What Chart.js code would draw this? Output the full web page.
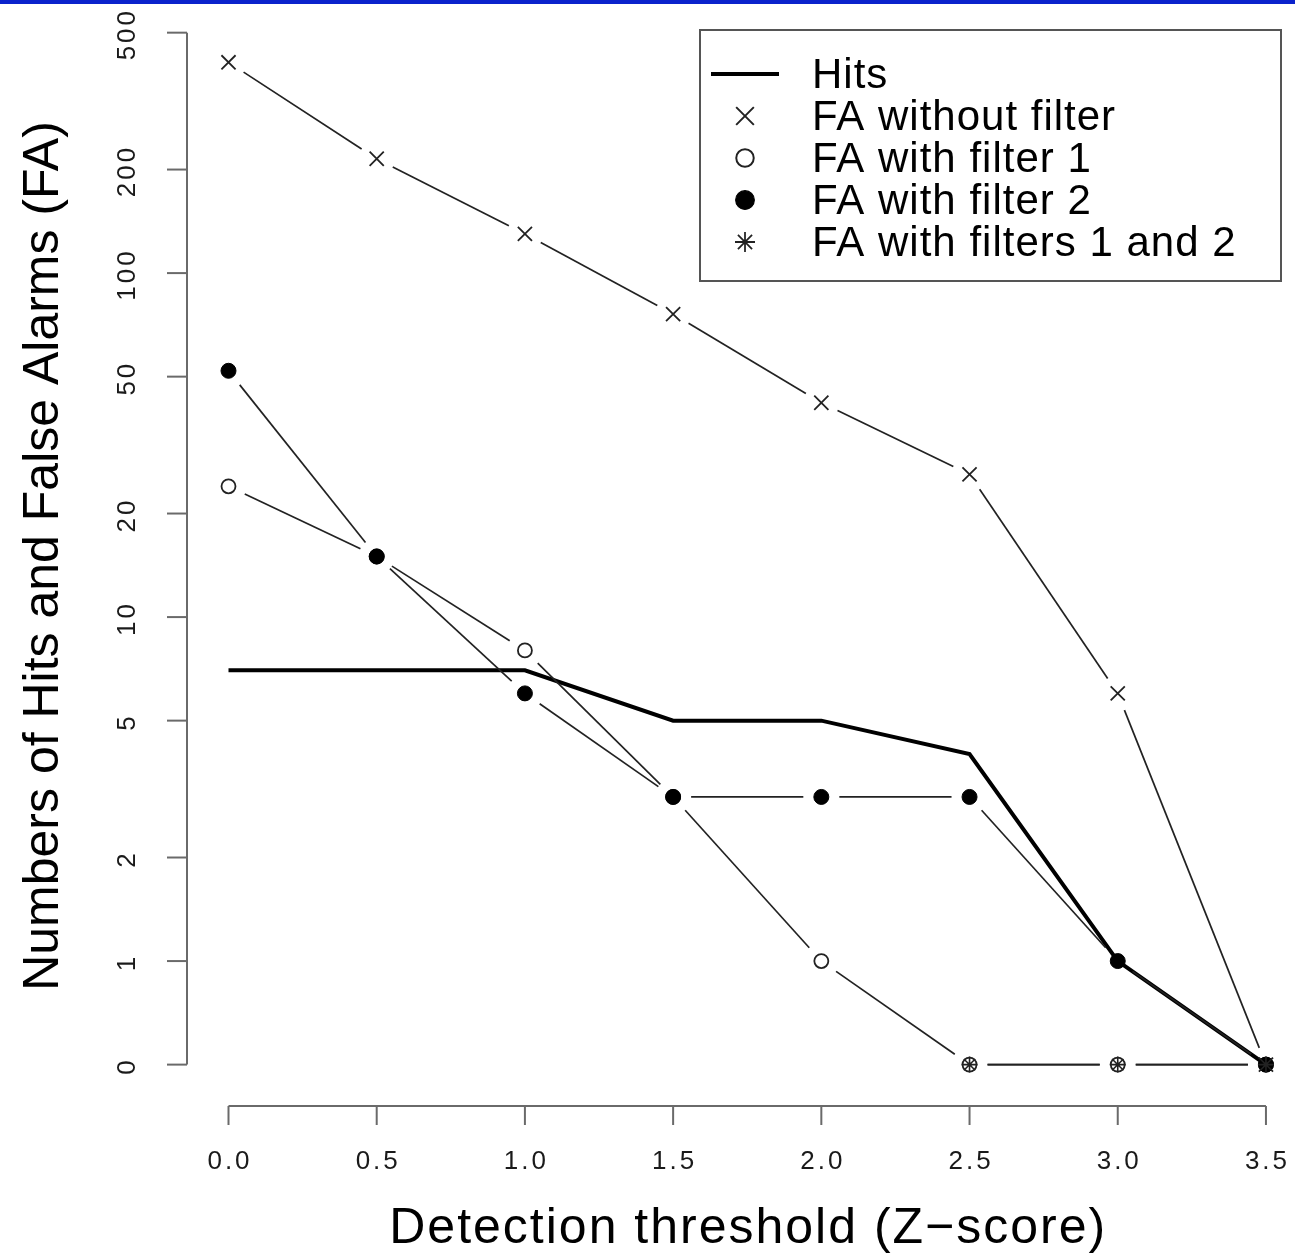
<!DOCTYPE html>
<html>
<head>
<meta charset="utf-8">
<title>Hits and False Alarms</title>
<script src="https://cdn.jsdelivr.net/npm/chart.js@4.4.1/dist/chart.umd.min.js"></script>
<style>
  html, body { margin: 0; padding: 0; background: #fff; overflow: hidden; }
  #wrap { position: relative; width: 1295px; height: 1255px; }
  #topbar { position: absolute; left: 0; top: 0; width: 100%; height: 4px; background: #0a22cc; z-index: 2; }
  #chart { display: block; }
</style>
</head>
<body>
<div id="wrap">
  <div id="topbar"></div>
  <canvas id="chart" width="1295" height="1255"></canvas>
</div>
<script>
const thresholds = [0.0, 0.5, 1.0, 1.5, 2.0, 2.5, 3.0, 3.5];
const hits = [7, 7, 7, 5, 5, 4, 1, 0];
const faNoFilter = [410, 215, 130, 76, 42, 26, 6, 0];
const faFilter1 = [24, 15, 8, 3, 1, 0, 0, 0];
const faFilter2 = [52, 15, 6, 3, 3, 3, 1, 0];
const faFilters12 = [null, null, null, null, null, 0, 0, 0];

const xTicks = [0.0, 0.5, 1.0, 1.5, 2.0, 2.5, 3.0, 3.5];
const yTicks = [0, 1, 2, 5, 10, 20, 50, 100, 200, 500];

const legendLabels = ["Hits", "FA without filter", "FA with filter 1", "FA with filter 2", "FA with filters 1 and 2"];
const xTitle = "Detection threshold (Z\u2212score)";
const yTitle = "Numbers of Hits and False Alarms (FA)";

// zero counts are drawn half a step below 1 on the log axis, like the original
const ZERO_AT = 0.5;
const INK = "#222";
const FONT = "'Liberation Sans', Arial, Helvetica, sans-serif";
const X_RANGE = [-0.14, 3.598];
const Y_RANGE = [0.379, 537];

const toPoints = vals => vals.map((v, i) => ({
    x: thresholds[i],
    y: v === null ? null : (v === 0 ? ZERO_AT : v)
}));

const datasets = [
    { label: legendLabels[0], data: toPoints(hits), borderColor: "#000", borderWidth: 4,
      pointRadius: 0, order: 5, sym: "line" },
    { label: legendLabels[1], data: toPoints(faNoFilter), showLine: false, pointStyle: "crossRot",
      pointRadius: 10, pointBorderColor: INK, pointBorderWidth: 1.8, order: 4, gap: 18 },
    { label: legendLabels[2], data: toPoints(faFilter1), showLine: false, pointStyle: "circle",
      pointRadius: 7, pointBackgroundColor: "#fff", pointBorderColor: INK, pointBorderWidth: 1.8, order: 3, gap: 18 },
    { label: legendLabels[3], data: toPoints(faFilter2), showLine: false, pointStyle: "circle",
      pointRadius: 7.5, pointBackgroundColor: "#000", pointBorderColor: "#000", pointBorderWidth: 1, order: 2, gap: 18 },
    { label: legendLabels[4], data: toPoints(faFilters12), showLine: false, pointStyle: "star",
      pointRadius: 8, pointBorderColor: INK, pointBorderWidth: 1.6, order: 1, gap: 18 }
];

// R-style "type = b" lines: segments stop short of each point
const gapLines = {
    id: "gapLines",
    afterDatasetDraw(chart, args) {
        if (args.index !== 0) return;
        const ctx = chart.ctx;
        ctx.save();
        ctx.strokeStyle = INK;
        ctx.lineWidth = 1.7;
        chart.data.datasets.forEach((ds, di) => {
            if (!ds.gap) return;
            const pts = chart.getDatasetMeta(di).data;
            for (let i = 1; i < pts.length; i++) {
                const a = pts[i - 1], b = pts[i];
                if (a.skip || b.skip) continue;
                const dx = b.x - a.x, dy = b.y - a.y;
                const len = Math.hypot(dx, dy);
                if (len <= 2 * ds.gap) continue;
                const ux = dx / len, uy = dy / len;
                ctx.beginPath();
                ctx.moveTo(a.x + ux * ds.gap, a.y + uy * ds.gap);
                ctx.lineTo(b.x - ux * ds.gap, b.y - uy * ds.gap);
                ctx.stroke();
            }
        });
        ctx.restore();
    }
};

function drawSymbol(ctx, ds, cx, cy, scale) {
    ctx.save();
    if (ds.sym === "line") {
        ctx.strokeStyle = "#000";
        ctx.lineWidth = 4;
        ctx.beginPath();
        ctx.moveTo(cx - 34, cy);
        ctx.lineTo(cx + 34, cy);
        ctx.stroke();
        ctx.restore();
        return;
    }
    const r = ds.pointRadius * scale;
    ctx.strokeStyle = ds.pointBorderColor;
    ctx.lineWidth = ds.pointBorderWidth * 1.1;
    ctx.beginPath();
    if (ds.pointStyle === "circle") {
        ctx.arc(cx, cy, r, 0, Math.PI * 2);
        ctx.fillStyle = ds.pointBackgroundColor;
        ctx.fill();
        ctx.stroke();
    } else {
        const d = r * Math.SQRT1_2;
        ctx.moveTo(cx - d, cy - d); ctx.lineTo(cx + d, cy + d);
        ctx.moveTo(cx - d, cy + d); ctx.lineTo(cx + d, cy - d);
        if (ds.pointStyle === "star") {
            ctx.moveTo(cx - r, cy); ctx.lineTo(cx + r, cy);
            ctx.moveTo(cx, cy - r); ctx.lineTo(cx, cy + r);
        }
        ctx.stroke();
    }
    ctx.restore();
}

// axes, labels and legend in the look of base R graphics
const frame = {
    id: "frame",
    afterDraw(chart) {
        const { ctx, chartArea: area, scales: { x, y } } = chart;
        ctx.save();

        // y axis
        ctx.strokeStyle = "#6a6a6a";
        ctx.lineWidth = 2;
        const yPix = t => y.getPixelForValue(t === 0 ? ZERO_AT : t);
        ctx.beginPath();
        ctx.moveTo(area.left, yPix(yTicks[yTicks.length - 1]));
        ctx.lineTo(area.left, yPix(yTicks[0]));
        ctx.stroke();
        yTicks.forEach(t => {
            ctx.beginPath();
            ctx.moveTo(area.left, yPix(t));
            ctx.lineTo(area.left - 20, yPix(t));
            ctx.stroke();
        });

        // x axis
        const xb = area.bottom;
        ctx.beginPath();
        ctx.moveTo(x.getPixelForValue(xTicks[0]), xb);
        ctx.lineTo(x.getPixelForValue(xTicks[xTicks.length - 1]), xb);
        ctx.stroke();
        xTicks.forEach(t => {
            ctx.beginPath();
            ctx.moveTo(x.getPixelForValue(t), xb);
            ctx.lineTo(x.getPixelForValue(t), xb + 19);
            ctx.stroke();
        });

        // tick labels
        ctx.fillStyle = "#1a1a1a";
        ctx.font = "26px " + FONT;
        ctx.letterSpacing = "3px";
        ctx.textAlign = "center";
        ctx.textBaseline = "middle";
        xTicks.forEach(t => ctx.fillText(t.toFixed(1), x.getPixelForValue(t) + 1.5, xb + 56));
        yTicks.forEach(t => {
            ctx.save();
            ctx.translate(area.left - 59, yPix(t) + 1.5);
            ctx.rotate(-Math.PI / 2);
            ctx.fillText(String(t), 0, 0);
            ctx.restore();
        });

        // axis titles
        ctx.fillStyle = "#000";
        ctx.font = "50px " + FONT;
        ctx.textBaseline = "alphabetic";
        ctx.letterSpacing = "2px";
        ctx.fillText(xTitle, x.getPixelForValue(1.75) + 1, xb + 137);
        ctx.letterSpacing = "0px";
        ctx.save();
        ctx.translate(58, (area.top + area.bottom) / 2 - 8);
        ctx.rotate(-Math.PI / 2);
        ctx.fillText(yTitle, 0, 0);
        ctx.restore();

        // legend
        const lx = 700, ly = 30, lw = 581, lh = 251;
        ctx.strokeStyle = "#555";
        ctx.lineWidth = 2;
        ctx.strokeRect(lx, ly, lw, lh);
        ctx.font = "42px " + FONT;
        ctx.letterSpacing = "1px";
        ctx.textAlign = "left";
        ctx.textBaseline = "middle";
        chart.data.datasets.forEach((ds, i) => {
            const cy = ly + 44 + i * 42;
            drawSymbol(ctx, ds, lx + 45, cy, 1.25);
            ctx.fillStyle = "#000";
            ctx.fillText(ds.label, lx + 112, cy + 2);
        });
        ctx.restore();
    }
};

new Chart(document.getElementById("chart").getContext("2d"), {
    type: "line",
    data: { datasets },
    options: {
        responsive: false,
        maintainAspectRatio: false,
        devicePixelRatio: 1,
        animation: false,
        events: [],
        layout: { autoPadding: false, padding: { left: 187, right: 0, top: 22, bottom: 149 } },
        plugins: {
            legend: { display: false },
            tooltip: { enabled: false }
        },
        scales: {
            x: { type: "linear", display: false, min: X_RANGE[0], max: X_RANGE[1], bounds: "data" },
            y: { type: "logarithmic", display: false, min: Y_RANGE[0], max: Y_RANGE[1], bounds: "data" }
        }
    },
    plugins: [gapLines, frame]
});
</script>
</body>
</html>
